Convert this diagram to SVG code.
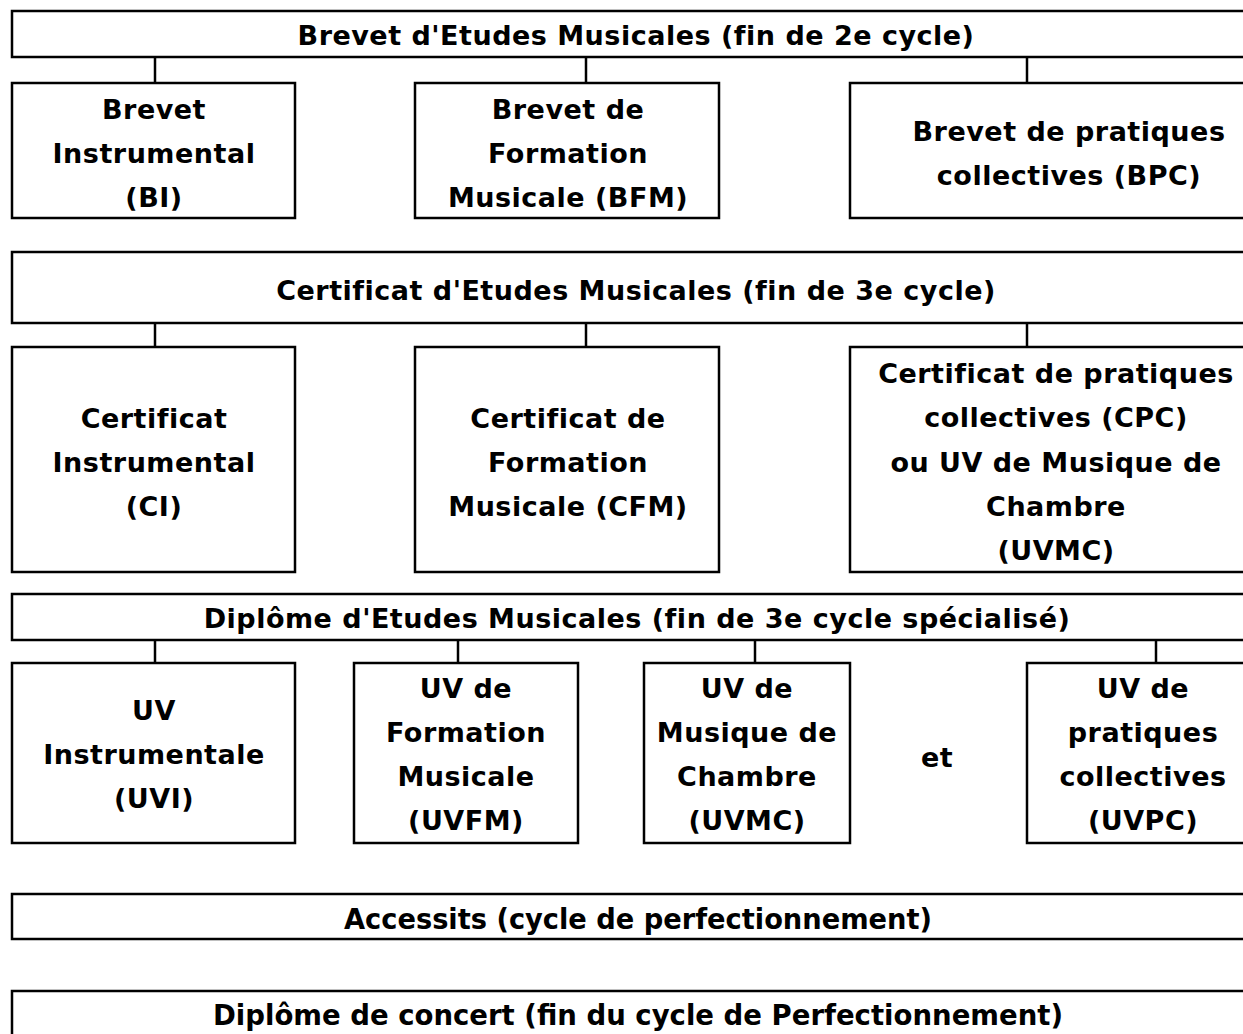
<svg xmlns="http://www.w3.org/2000/svg" width="1243" height="1034" viewBox="0 0 1243 1034">
<style>
.box{fill:#fff;stroke:#000;stroke-width:2.5}
.con line{stroke:#000;stroke-width:2.5}
text{font-family:"Comic Sans MS","DejaVu Sans",sans-serif;font-weight:bold;font-size:27px;letter-spacing:0.5px;text-anchor:middle;fill:#000}
text.cond{font-family:"DejaVu Sans Condensed","DejaVu Sans",sans-serif;font-size:29px;letter-spacing:0}
</style>
<rect x="0" y="0" width="1243" height="1034" fill="#fff"/>
<g class="con" id="connectors">
<line x1="155" y1="57" x2="155" y2="83"/>
<line x1="586" y1="57" x2="586" y2="83"/>
<line x1="1027" y1="57" x2="1027" y2="83"/>
<line x1="155" y1="323" x2="155" y2="347"/>
<line x1="586" y1="323" x2="586" y2="347"/>
<line x1="1027" y1="323" x2="1027" y2="347"/>
<line x1="155" y1="640" x2="155" y2="663"/>
<line x1="458" y1="640" x2="458" y2="663"/>
<line x1="755" y1="640" x2="755" y2="663"/>
<line x1="1156" y1="640" x2="1156" y2="663"/>
</g>
<g id="bem">
<rect class="box" x="12" y="11" width="1290" height="46"/>
<text x="636" y="45">Brevet d'Etudes Musicales (fin de 2e cycle)</text>
</g>
<g id="bi">
<rect class="box" x="12" y="83" width="283" height="135"/>
<text x="154"><tspan x="154" y="119">Brevet</tspan><tspan x="154" y="163">Instrumental</tspan><tspan x="154" y="207">(BI)</tspan></text>
</g>
<g id="bfm">
<rect class="box" x="415" y="83" width="304" height="135"/>
<text x="568"><tspan x="568" y="119">Brevet de</tspan><tspan x="568" y="163">Formation</tspan><tspan x="568" y="207">Musicale (BFM)</tspan></text>
</g>
<g id="bpc">
<rect class="box" x="850" y="83" width="452" height="135"/>
<text x="1069"><tspan x="1069" y="141">Brevet de pratiques</tspan><tspan x="1069" y="185">collectives (BPC)</tspan></text>
</g>
<g id="cem">
<rect class="box" x="12" y="252" width="1290" height="71"/>
<text x="636" y="300">Certificat d'Etudes Musicales (fin de 3e cycle)</text>
</g>
<g id="ci">
<rect class="box" x="12" y="347" width="283" height="225"/>
<text x="154"><tspan x="154" y="428">Certificat</tspan><tspan x="154" y="472">Instrumental</tspan><tspan x="154" y="516">(CI)</tspan></text>
</g>
<g id="cfm">
<rect class="box" x="415" y="347" width="304" height="225"/>
<text x="568"><tspan x="568" y="428">Certificat de</tspan><tspan x="568" y="472">Formation</tspan><tspan x="568" y="516">Musicale (CFM)</tspan></text>
</g>
<g id="cpc">
<rect class="box" x="850" y="347" width="452" height="225"/>
<text x="1056"><tspan x="1056" y="383">Certificat de pratiques</tspan><tspan x="1056" y="427">collectives (CPC)</tspan><tspan x="1056" y="472">ou UV de Musique de</tspan><tspan x="1056" y="516">Chambre</tspan><tspan x="1056" y="560">(UVMC)</tspan></text>
</g>
<g id="dem">
<rect class="box" x="12" y="594" width="1290" height="46"/>
<text x="637" y="628">Diplôme d'Etudes Musicales (fin de 3e cycle spécialisé)</text>
</g>
<g id="uvi">
<rect class="box" x="12" y="663" width="283" height="180"/>
<text x="154"><tspan x="154" y="720">UV</tspan><tspan x="154" y="764">Instrumentale</tspan><tspan x="154" y="808">(UVI)</tspan></text>
</g>
<g id="uvfm">
<rect class="box" x="354" y="663" width="224" height="180"/>
<text x="466"><tspan x="466" y="698">UV de</tspan><tspan x="466" y="742">Formation</tspan><tspan x="466" y="786">Musicale</tspan><tspan x="466" y="830">(UVFM)</tspan></text>
</g>
<g id="uvmc">
<rect class="box" x="644" y="663" width="206" height="180"/>
<text x="747"><tspan x="747" y="698">UV de</tspan><tspan x="747" y="742">Musique de</tspan><tspan x="747" y="786">Chambre</tspan><tspan x="747" y="830">(UVMC)</tspan></text>
</g>
<g id="et">
<text x="937" y="767">et</text>
</g>
<g id="uvpc">
<rect class="box" x="1027" y="663" width="275" height="180"/>
<text x="1143"><tspan x="1143" y="698">UV de</tspan><tspan x="1143" y="742">pratiques</tspan><tspan x="1143" y="786">collectives</tspan><tspan x="1143" y="830">(UVPC)</tspan></text>
</g>
<g id="accessits">
<rect class="box" x="12" y="894" width="1290" height="45"/>
<text class="cond" x="638" y="929" textLength="588" lengthAdjust="spacingAndGlyphs">Accessits (cycle de perfectionnement)</text>
</g>
<g id="concert">
<rect class="box" x="12" y="991" width="1290" height="70"/>
<text class="cond" x="638" y="1025" textLength="850" lengthAdjust="spacingAndGlyphs">Diplôme de concert (fin du cycle de Perfectionnement)</text>
</g>
</svg>
